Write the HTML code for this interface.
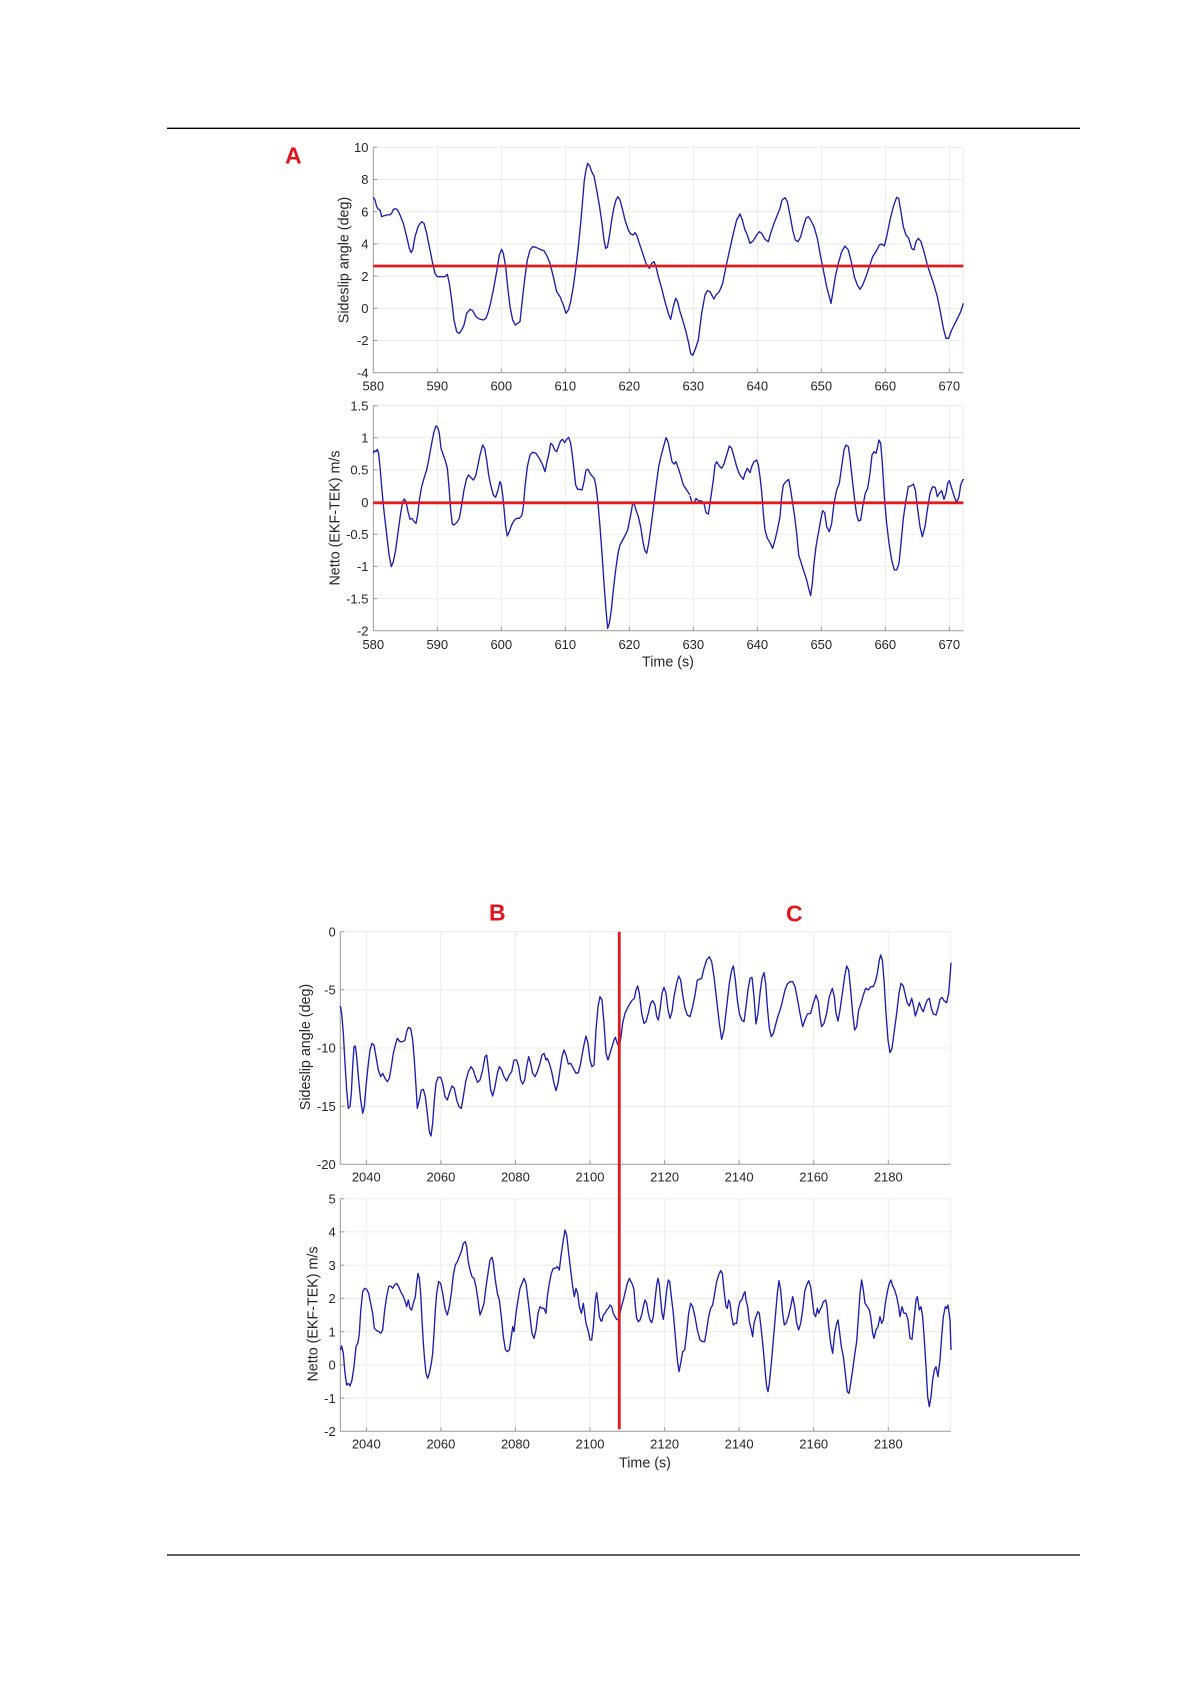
<!DOCTYPE html>
<html><head><meta charset="utf-8"><style>
html,body{margin:0;padding:0;background:#fff;}
svg{display:block;}
text{font-family:"Liberation Sans",Arial,sans-serif;}
.tk{font-size:13px;fill:#262626;}
.lb{font-size:14.3px;fill:#262626;}
.gr{stroke:#ebebeb;stroke-width:1;fill:none;}
.ax{stroke:#999;stroke-width:1;fill:none;}
.cv{fill:none;stroke:#1d1db0;stroke-width:1.35;stroke-linejoin:round;}
.red{stroke:#e11b1b;stroke-width:2.8;}
.ltr{font-size:23px;font-weight:bold;fill:#e3141b;}
</style></head><body>
<svg width="1190" height="1684" viewBox="0 0 1190 1684" xmlns="http://www.w3.org/2000/svg">
<rect width="1190" height="1684" fill="#fff"/>
<line x1="167" y1="128.3" x2="1080" y2="128.3" stroke="#000" stroke-width="1.3"/>
<line x1="167" y1="1555" x2="1080" y2="1555" stroke="#000" stroke-width="1.3"/>

<text class="ltr" x="285" y="163.3">A</text>
<text class="ltr" x="489" y="920.7">B</text>
<text class="ltr" x="786" y="921.7">C</text>

<!-- ===== A1 ===== -->
<g>
<path class="gr" d="M437.3 147.3V372.7M501.3 147.3V372.7M565.3 147.3V372.7M629.3 147.3V372.7M693.3 147.3V372.7M757.3 147.3V372.7M821.3 147.3V372.7M885.3 147.3V372.7M949.3 147.3V372.7M963.3 147.3V372.7
M373.3 147.3H963.3M373.3 179.5H963.3M373.3 211.7H963.3M373.3 243.9H963.3M373.3 276.1H963.3M373.3 308.3H963.3M373.3 340.5H963.3"/>
<path class="ax" d="M373.3 147.3V372.7H963.3"/>
<path class="ax" d="M437.3 372.7v-4M501.3 372.7v-4M565.3 372.7v-4M629.3 372.7v-4M693.3 372.7v-4M757.3 372.7v-4M821.3 372.7v-4M885.3 372.7v-4M949.3 372.7v-4
M373.3 147.3h4M373.3 179.5h4M373.3 211.7h4M373.3 243.9h4M373.3 276.1h4M373.3 308.3h4M373.3 340.5h4"/>
<g class="tk" text-anchor="middle">
<text x="373.3" y="390.4">580</text><text x="437.3" y="390.4">590</text><text x="501.3" y="390.4">600</text><text x="565.3" y="390.4">610</text><text x="629.3" y="390.4">620</text><text x="693.3" y="390.4">630</text><text x="757.3" y="390.4">640</text><text x="821.3" y="390.4">650</text><text x="885.3" y="390.4">660</text><text x="949.3" y="390.4">670</text>
</g>
<g class="tk" text-anchor="end">
<text x="368.5" y="152">10</text><text x="368.5" y="184.2">8</text><text x="368.5" y="216.4">6</text><text x="368.5" y="248.6">4</text><text x="368.5" y="280.8">2</text><text x="368.5" y="313">0</text><text x="368.5" y="345.2">-2</text><text x="368.5" y="377.4">-4</text>
</g>
<text class="lb" text-anchor="middle" transform="translate(348.5,260) rotate(-90)">Sideslip angle (deg)</text>
<g transform="translate(250,120) scale(0.333333)">
<polyline class="cv" vector-effect="non-scaling-stroke" points="370,232 375,240 380,260 385,268 390,270 395,290 400,288 410,285 420,284 425,280 430,268 437,266 443,270 450,285 460,310 470,350 478,385 483,398 488,390 495,350 505,318 515,305 522,310 530,340 540,390 548,430 555,460 562,470 570,470 585,470 592,463 598,490 605,540 612,600 620,635 628,640 636,628 642,615 650,580 660,568 668,572 678,590 688,597 700,600 708,595 715,575 722,548 730,510 740,455 748,405 755,388 760,400 767,440 773,500 780,560 788,600 796,615 803,610 810,605 818,530 825,470 832,420 840,390 848,380 858,382 866,386 875,390 882,392 892,410 900,430 910,470 920,515 930,530 940,555 948,580 955,570 962,545 970,500 978,440 985,380 992,310 998,240 1003,180 1008,150 1013,130 1020,140 1025,155 1032,168 1040,210 1048,255 1056,310 1062,360 1067,385 1072,382 1078,350 1085,300 1092,262 1098,240 1104,230 1110,240 1118,270 1125,300 1135,330 1142,342 1150,345 1155,338 1160,345 1168,370 1178,400 1188,430 1198,445 1205,430 1212,425 1218,440 1225,470 1235,505 1245,545 1255,580 1262,598 1270,560 1277,535 1283,545 1290,575 1298,600 1308,635 1315,665 1322,700 1328,707"/>
</g>
<g transform="translate(690,120) scale(0.333333)">
<polyline class="cv" vector-effect="non-scaling-stroke" points="8,707 15,690 25,660 35,580 45,525 52,512 60,515 68,530 72,537 78,525 88,515 98,490 108,440 120,385 130,340 140,300 150,282 157,300 165,330 172,345 180,370 190,362 200,345 208,335 215,340 225,358 235,365 242,340 252,310 262,285 270,265 276,240 285,233 292,245 300,285 308,330 316,360 324,365 332,350 340,320 348,295 355,290 362,300 372,320 382,355 390,400 400,450 410,500 418,530 423,550 428,520 436,470 445,430 455,395 465,378 475,390 485,430 493,470 502,495 510,508 518,495 528,470 538,440 548,410 558,395 568,375 575,372 583,378 590,350 600,300 610,260 620,232 626,235 632,270 640,320 648,345 656,355 665,385 672,390 678,365 685,355 693,365 702,395 712,435 722,465 732,495 742,530 752,580 760,625 768,655 776,655 785,630 795,610 805,590 812,575 820,550"/>
</g>
<line class="red" x1="373.3" y1="266" x2="963.3" y2="266"/>
</g>

<!-- ===== A2 ===== -->
<g>
<path class="gr" d="M437.3 405.7V630.7M501.3 405.7V630.7M565.3 405.7V630.7M629.3 405.7V630.7M693.3 405.7V630.7M757.3 405.7V630.7M821.3 405.7V630.7M885.3 405.7V630.7M949.3 405.7V630.7M963.3 405.7V630.7
M373.3 405.7H963.3M373.3 437.8H963.3M373.3 470H963.3M373.3 502.1H963.3M373.3 534.3H963.3M373.3 566.4H963.3M373.3 598.6H963.3"/>
<path class="ax" d="M373.3 405.7V630.7H963.3"/>
<path class="ax" d="M437.3 630.7v-4M501.3 630.7v-4M565.3 630.7v-4M629.3 630.7v-4M693.3 630.7v-4M757.3 630.7v-4M821.3 630.7v-4M885.3 630.7v-4M949.3 630.7v-4
M373.3 405.7h4M373.3 437.8h4M373.3 470h4M373.3 502.1h4M373.3 534.3h4M373.3 566.4h4M373.3 598.6h4"/>
<g class="tk" text-anchor="middle">
<text x="373.3" y="649">580</text><text x="437.3" y="649">590</text><text x="501.3" y="649">600</text><text x="565.3" y="649">610</text><text x="629.3" y="649">620</text><text x="693.3" y="649">630</text><text x="757.3" y="649">640</text><text x="821.3" y="649">650</text><text x="885.3" y="649">660</text><text x="949.3" y="649">670</text>
</g>
<g class="tk" text-anchor="end">
<text x="368.5" y="410.4">1.5</text><text x="368.5" y="442.5">1</text><text x="368.5" y="474.7">0.5</text><text x="368.5" y="506.8">0</text><text x="368.5" y="539">-0.5</text><text x="368.5" y="571.1">-1</text><text x="368.5" y="603.3">-1.5</text><text x="368.5" y="635.4">-2</text>
</g>
<text class="lb" text-anchor="middle" transform="translate(339.5,518) rotate(-90)">Netto (EKF-TEK) m/s</text>
<text class="lb" text-anchor="middle" x="668" y="666.7">Time (s)</text>
<g transform="translate(250,390) scale(0.333333)">
<polyline class="cv" vector-effect="non-scaling-stroke" points="370,190 373,182 378,185 382,178 386,190 390,230 395,290 400,345 405,390 412,450 418,500 424,530 430,515 437,480 445,420 452,370 458,335 463,327 468,335 474,365 480,388 486,385 492,395 498,400 503,375 508,330 515,290 522,265 530,240 537,205 545,160 552,125 558,108 563,112 568,130 573,175 580,195 587,215 592,235 597,290 602,360 607,402 612,405 620,398 628,385 635,345 642,300 650,265 656,255 662,262 670,270 677,258 683,230 690,195 698,165 704,175 710,210 716,255 722,285 730,315 737,322 744,300 750,275 754,285 758,315 762,355 767,410 772,438 778,425 785,405 792,392 800,385 808,385 816,375 820,350 825,290 832,230 840,195 848,187 858,190 868,205 878,225 885,245 890,220 897,190 902,160 908,165 914,180 920,185 926,168 932,152 938,148 944,158 950,148 956,142 962,160 967,195 972,240 977,285 983,298 990,298 996,300 1002,275 1008,240 1014,238 1020,250 1026,258 1033,265 1038,290 1044,340 1050,410 1056,490 1062,580 1068,660 1073,715 1078,700 1084,660 1090,600 1097,540 1104,490 1110,465 1118,450 1126,435 1133,420 1138,395 1143,370 1148,340 1152,340 1158,360 1165,380 1172,410 1178,450 1184,480 1190,490 1196,460 1203,410 1210,355 1218,290 1226,230 1234,195 1242,165 1248,143 1254,155 1260,185 1266,215 1272,222 1278,215 1285,235 1293,260 1300,285 1310,300 1320,315"/>
</g>
<g transform="translate(690,390) scale(0.333333)">
<polyline class="cv" vector-effect="non-scaling-stroke" points="0,318 5,335 12,340 18,325 25,332 35,333 42,340 48,368 55,372 60,340 65,305 70,270 75,225 80,215 88,228 95,235 102,222 110,195 118,168 125,175 132,200 140,230 148,252 155,262 160,268 165,250 172,235 180,248 185,230 192,215 200,210 205,225 210,260 215,305 220,370 225,420 232,445 240,458 248,475 255,450 262,420 270,380 275,320 280,285 288,275 296,268 302,300 308,340 314,380 320,430 326,495 334,520 342,545 350,570 356,595 362,617 367,580 372,520 378,470 385,430 392,390 398,362 404,368 410,410 418,425 425,400 432,340 440,300 448,280 455,230 462,180 468,165 475,170 480,205 487,270 494,330 500,375 506,393 512,390 518,350 526,310 533,295 540,250 546,195 552,185 558,190 563,170 567,150 572,160 577,220 583,320 590,400 597,460 605,510 613,540 620,540 627,520 633,460 640,385 648,330 655,290 662,288 670,282 676,300 682,350 690,410 697,440 705,410 712,360 720,310 728,290 736,293 742,320 748,310 755,302 762,328 768,310 773,280 778,272 785,295 793,320 800,338 807,320 812,285 818,270 822,268"/>
</g>
<line class="red" x1="373.3" y1="502.8" x2="963.3" y2="502.8"/>
</g>

<!-- ===== B1 ===== -->
<g>
<path class="gr" d="M366.3 931.7V1164.3M440.9 931.7V1164.3M515.4 931.7V1164.3M590 931.7V1164.3M664.6 931.7V1164.3M739.1 931.7V1164.3M813.7 931.7V1164.3M888.3 931.7V1164.3M950.7 931.7V1164.3
M340.3 931.7H950.7M340.3 989.9H950.7M340.3 1048H950.7M340.3 1106.2H950.7"/>
<path class="ax" d="M340.3 931.7V1164.3H950.7"/>
<path class="ax" d="M366.3 1164.3v-4M440.9 1164.3v-4M515.4 1164.3v-4M590 1164.3v-4M664.6 1164.3v-4M739.1 1164.3v-4M813.7 1164.3v-4M888.3 1164.3v-4
M340.3 931.7h4M340.3 989.9h4M340.3 1048h4M340.3 1106.2h4"/>
<g class="tk" text-anchor="middle">
<text x="366.3" y="1181.7">2040</text><text x="440.9" y="1181.7">2060</text><text x="515.4" y="1181.7">2080</text><text x="590" y="1181.7">2100</text><text x="664.6" y="1181.7">2120</text><text x="739.1" y="1181.7">2140</text><text x="813.7" y="1181.7">2160</text><text x="888.3" y="1181.7">2180</text>
</g>
<g class="tk" text-anchor="end">
<text x="335.7" y="936.4">0</text><text x="335.7" y="994.6">-5</text><text x="335.7" y="1052.7">-10</text><text x="335.7" y="1110.9">-15</text><text x="335.7" y="1169">-20</text>
</g>
<text class="lb" text-anchor="middle" transform="translate(310,1047) rotate(-90)">Sideslip angle (deg)</text>
<g transform="translate(160,880) scale(0.333333)">
<polyline class="cv" vector-effect="non-scaling-stroke" points="541,378 545,400 550,460 555,550 560,630 565,685 570,680 574,640 578,560 582,500 586,498 590,530 596,600 602,660 608,700 613,680 618,620 624,560 630,510 636,490 642,495 648,530 655,570 662,590 668,580 675,595 682,605 688,595 694,560 700,520 706,495 712,475 720,485 728,485 735,480 740,455 745,442 752,445 758,480 763,540 768,620 772,685 778,660 784,630 790,628 796,650 802,700 808,755 813,768 818,730 823,660 828,610 834,592 842,592 848,610 855,650 862,660 868,640 876,618 883,625 890,660 897,680 904,685 910,650 917,605 925,575 933,560 940,570 946,590 953,607 960,600 968,570 975,530 980,525 986,575 992,630 998,648 1005,620 1012,580 1018,560 1025,570 1032,590 1040,603 1048,585 1055,575 1062,540 1070,540 1076,560 1082,600 1088,612 1094,600 1100,560 1106,530 1112,550 1118,580 1125,590 1132,575 1140,550 1146,525 1152,520 1158,540 1162,535 1168,550 1175,575 1182,610 1188,632 1194,610 1200,570 1206,530 1212,510 1218,525 1225,552 1232,550 1240,565 1248,580 1255,578 1262,550 1268,515 1274,485 1278,468 1284,490 1290,540 1296,560 1302,555 1308,450 1314,380 1320,350 1326,360 1332,430 1338,520 1344,540 1350,520 1356,500 1362,480 1366,472 1372,490 1378,503"/>
</g>
<g transform="translate(600,880) scale(0.333333)">
<polyline class="cv" vector-effect="non-scaling-stroke" points="58,500 63,470 68,430 75,400 82,385 90,370 97,360 103,355 108,330 113,318 118,340 125,400 132,430 138,425 145,400 152,370 158,362 165,375 170,410 175,420 180,390 186,340 192,322 198,340 204,390 210,415 216,395 222,350 230,310 236,288 242,300 248,345 255,385 262,405 270,410 278,380 285,345 292,300 298,298 305,295 312,265 320,240 328,230 335,245 342,290 350,360 358,430 365,478 372,450 380,380 388,310 395,270 400,258 406,300 412,360 418,400 425,420 432,425 438,380 444,330 450,295 456,292 462,350 468,432 474,400 480,340 486,295 492,278 497,310 502,380 508,445 514,470 520,460 528,430 535,405 542,385 548,360 555,330 562,312 570,305 578,305 585,320 592,355 600,400 608,440 615,420 622,402 632,400 640,370 648,345 655,365 660,410 665,440 672,430 680,400 688,350 697,325 703,350 708,400 714,423 720,390 727,340 734,290 740,258 746,270 752,330 758,400 764,450 770,440 776,390 783,370 790,345 797,325 805,330 812,320 820,320 826,305 832,280 838,240 842,225 847,240 852,300 858,400 864,480 870,518 876,505 882,460 890,400 897,340 903,310 910,318 916,345 922,370 928,378 935,355 940,375 946,408 952,390 958,368 964,385 970,395 976,375 982,360 988,355 994,385 1000,402 1008,405 1014,385 1020,358 1026,352 1032,362 1040,368 1046,340 1050,290 1053,248"/>
</g>
</g>

<!-- ===== B2 ===== -->
<g>
<path class="gr" d="M366.3 1198.7V1431.3M440.9 1198.7V1431.3M515.4 1198.7V1431.3M590 1198.7V1431.3M664.6 1198.7V1431.3M739.1 1198.7V1431.3M813.7 1198.7V1431.3M888.3 1198.7V1431.3M950.7 1198.7V1431.3
M340.3 1198.7H950.7M340.3 1231.9H950.7M340.3 1265.2H950.7M340.3 1298.4H950.7M340.3 1331.6H950.7M340.3 1364.9H950.7M340.3 1398.1H950.7"/>
<path class="ax" d="M340.3 1198.7V1431.3H950.7"/>
<path class="ax" d="M366.3 1431.3v-4M440.9 1431.3v-4M515.4 1431.3v-4M590 1431.3v-4M664.6 1431.3v-4M739.1 1431.3v-4M813.7 1431.3v-4M888.3 1431.3v-4
M340.3 1198.7h4M340.3 1231.9h4M340.3 1265.2h4M340.3 1298.4h4M340.3 1331.6h4M340.3 1364.9h4M340.3 1398.1h4"/>
<g class="tk" text-anchor="middle">
<text x="366.3" y="1448.7">2040</text><text x="440.9" y="1448.7">2060</text><text x="515.4" y="1448.7">2080</text><text x="590" y="1448.7">2100</text><text x="664.6" y="1448.7">2120</text><text x="739.1" y="1448.7">2140</text><text x="813.7" y="1448.7">2160</text><text x="888.3" y="1448.7">2180</text>
</g>
<g class="tk" text-anchor="end">
<text x="335.7" y="1203.4">5</text><text x="335.7" y="1236.6">4</text><text x="335.7" y="1269.9">3</text><text x="335.7" y="1303.1">2</text><text x="335.7" y="1336.3">1</text><text x="335.7" y="1369.6">0</text><text x="335.7" y="1402.8">-1</text><text x="335.7" y="1436">-2</text>
</g>
<text class="lb" text-anchor="middle" transform="translate(317.3,1314) rotate(-90)">Netto (EKF-TEK) m/s</text>
<text class="lb" text-anchor="middle" x="645" y="1467.3">Time (s)</text>
<g transform="translate(160,1160) scale(0.333333)">
<polyline class="cv" vector-effect="non-scaling-stroke" points="541,570 545,558 550,580 555,640 560,675 565,670 570,678 576,660 582,620 588,560 594,548 598,520 602,455 608,395 614,385 620,388 626,400 632,430 638,460 643,505 650,512 657,515 662,520 668,510 674,450 680,410 686,380 692,378 698,385 704,375 710,370 716,380 722,395 728,405 734,420 740,440 745,420 750,445 755,450 760,430 766,410 770,370 774,340 778,355 782,400 786,480 790,550 794,600 798,640 803,655 808,640 814,610 818,580 822,520 826,450 830,400 836,365 842,370 848,400 855,445 862,465 868,440 874,400 880,345 886,315 892,305 898,290 904,275 910,250 916,245 920,260 924,300 930,330 936,350 942,355 948,380 954,420 960,465 966,450 972,430 978,380 984,340 990,300 996,292 1000,310 1006,360 1012,400 1018,420 1024,470 1030,530 1036,568 1042,575 1048,570 1054,530 1058,500 1062,515 1068,460 1074,420 1080,385 1086,370 1092,355 1098,370 1104,420 1110,470 1116,520 1122,535 1128,510 1134,460 1140,440 1146,445 1152,445 1158,460 1162,410 1168,370 1174,340 1180,325 1186,325 1192,320 1198,330 1204,280 1210,240 1215,210 1220,225 1226,280 1232,330 1238,380 1243,410 1248,385 1253,400 1258,440 1264,460 1270,430 1274,460 1278,490 1284,510 1290,540 1295,540 1300,500 1306,420 1310,398 1314,430 1318,470 1324,485"/>
</g>
<g transform="translate(600,1160) scale(0.333333)">
<polyline class="cv" vector-effect="non-scaling-stroke" points="5,485 10,465 15,460 20,450 25,445 30,435 35,440 40,460 45,470 50,478 55,480 58,470 63,445 70,420 76,395 82,370 88,355 93,365 98,375 102,390 106,440 110,475 115,485 120,480 125,465 130,440 135,420 140,430 145,460 150,480 155,488 160,470 165,420 170,375 174,355 178,375 182,420 186,460 190,478 195,440 200,390 205,360 209,365 214,410 220,460 226,530 232,600 237,635 242,610 248,575 254,570 260,520 266,460 272,430 278,440 285,470 292,510 300,540 308,545 314,545 320,510 326,470 332,445 338,435 344,400 350,365 356,345 362,332 367,340 372,390 378,440 382,445 386,420 390,430 395,470 400,495 405,490 410,490 415,445 420,425 425,420 432,400 435,395 438,420 443,440 448,485 454,510 458,530 462,490 468,470 474,455 478,460 484,510 490,570 496,640 500,680 504,695 508,670 514,610 520,540 526,470 532,400 537,362 542,390 548,460 553,495 558,490 565,470 572,440 578,410 584,440 590,490 596,510 602,490 608,450 614,395 620,375 626,362 632,380 637,420 642,462 647,470 652,445 656,460 660,450 665,440 670,425 677,420 681,440 686,500 692,550 698,580 704,520 710,490 714,480 718,510 724,560 730,590 736,640 742,695 747,700 752,670 758,630 764,585 770,545 776,460 780,400 785,360 790,390 795,430 802,440 808,450 812,470 818,520 822,535 828,510 834,500 840,470 845,490 850,480 856,430 862,395 868,370 873,360 877,375 884,390 890,410 896,440 900,470 906,440 912,460 918,460 924,480 930,535 936,538 942,480 948,420 952,410 958,450 963,440 968,470 973,540 978,620 983,710 988,740 993,710 998,660 1003,630 1008,620 1014,650 1020,600 1025,530 1030,470 1036,440 1040,445 1044,435 1050,480 1053,570"/>
</g>
</g>

<line class="red" x1="619.3" y1="931.7" x2="619.3" y2="1429.3"/>
</svg>
</body></html>
